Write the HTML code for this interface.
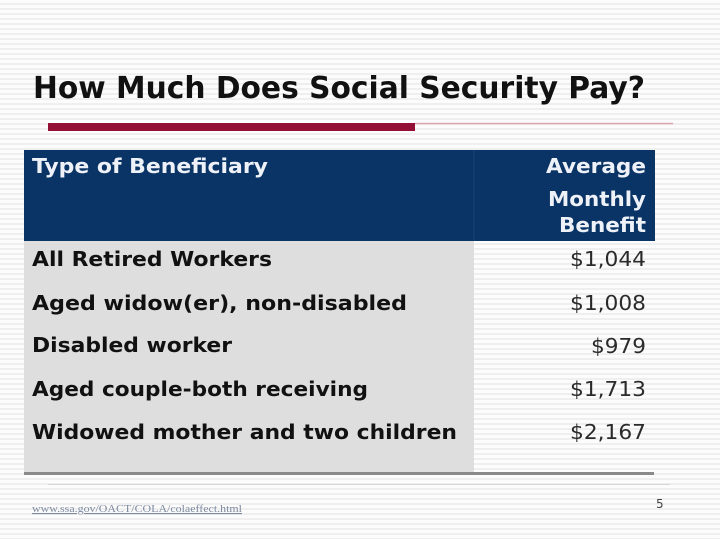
<!DOCTYPE html>
<html>
<head>
<meta charset="utf-8">
<style>
html,body{margin:0;padding:0;}
body{width:720px;height:539px;overflow:hidden;
background:repeating-linear-gradient(180deg,#fcfcfc 0px,#fcfcfc 3px,#efefef 3px,#efefef 5px);}
svg{display:block;}
</style>
</head>
<body>
<svg width="720" height="539" viewBox="0 0 720 539" xmlns="http://www.w3.org/2000/svg">
  <!-- title -->
  <text x="33" y="98" font-family="DejaVu Sans, Liberation Sans, sans-serif" font-weight="bold" font-size="30" fill="#111" textLength="612" lengthAdjust="spacingAndGlyphs">How Much Does Social Security Pay?</text>
  <!-- red bar and thin line -->
  <line x1="415" y1="123.5" x2="673" y2="123.5" stroke="#d9a5b0" stroke-width="1.5"/>
  <rect x="48" y="123" width="367" height="8" fill="#940f36"/>

  <!-- header -->
  <rect x="24" y="150" width="631" height="91" fill="#0b3466"/>
  <line x1="474" y1="150" x2="474" y2="241" stroke="#1a4274" stroke-width="1"/>
  <text x="32" y="173" font-family="DejaVu Sans, Liberation Sans, sans-serif" font-weight="bold" font-size="20" fill="#eef2f8" textLength="236" lengthAdjust="spacingAndGlyphs">Type of Beneficiary</text>
  <g font-family="DejaVu Sans, Liberation Sans, sans-serif" font-weight="bold" font-size="20" fill="#eef2f8" text-anchor="end">
    <text x="646" y="173" textLength="100" lengthAdjust="spacingAndGlyphs">Average</text>
    <text x="646" y="206" textLength="98" lengthAdjust="spacingAndGlyphs">Monthly</text>
    <text x="646" y="232" textLength="87" lengthAdjust="spacingAndGlyphs">Benefit</text>
  </g>

  <!-- gray left column -->
  <rect x="24" y="241" width="450" height="232" fill="#dedede"/>
  <!-- bottom line -->
  <rect x="24" y="472" width="630" height="3" fill="#8a8a8a"/>
  <line x1="48" y1="484.5" x2="670" y2="484.5" stroke="#d6d6d6" stroke-width="1"/>

  <!-- row labels -->
  <g font-family="DejaVu Sans, Liberation Sans, sans-serif" font-weight="bold" font-size="20" fill="#111">
    <text x="32" y="266" textLength="240" lengthAdjust="spacingAndGlyphs">All Retired Workers</text>
    <text x="32" y="310" textLength="375" lengthAdjust="spacingAndGlyphs">Aged widow(er), non-disabled</text>
    <text x="32" y="352" textLength="200" lengthAdjust="spacingAndGlyphs">Disabled worker</text>
    <text x="32" y="396" textLength="336" lengthAdjust="spacingAndGlyphs">Aged couple-both receiving</text>
    <text x="32" y="439" textLength="425" lengthAdjust="spacingAndGlyphs">Widowed mother and two children</text>
  </g>
  <!-- values -->
  <g font-family="DejaVu Sans, Liberation Sans, sans-serif" font-size="20" fill="#2a2a2a" text-anchor="end">
    <text x="646" y="266" textLength="76" lengthAdjust="spacingAndGlyphs">$1,044</text>
    <text x="646" y="310" textLength="76" lengthAdjust="spacingAndGlyphs">$1,008</text>
    <text x="646" y="353" textLength="55" lengthAdjust="spacingAndGlyphs">$979</text>
    <text x="646" y="396" textLength="76" lengthAdjust="spacingAndGlyphs">$1,713</text>
    <text x="646" y="439" textLength="76" lengthAdjust="spacingAndGlyphs">$2,167</text>
  </g>

  <!-- footer -->
  <text x="32" y="512" font-family="Liberation Serif, serif" font-size="11" fill="#7d8aa0" textLength="210" lengthAdjust="spacingAndGlyphs" text-decoration="underline">www.ssa.gov/OACT/COLA/colaeffect.html</text>
  <text x="656" y="508" font-family="DejaVu Sans, Liberation Sans, sans-serif" font-size="12" fill="#444">5</text>
</svg>
</body>
</html>
